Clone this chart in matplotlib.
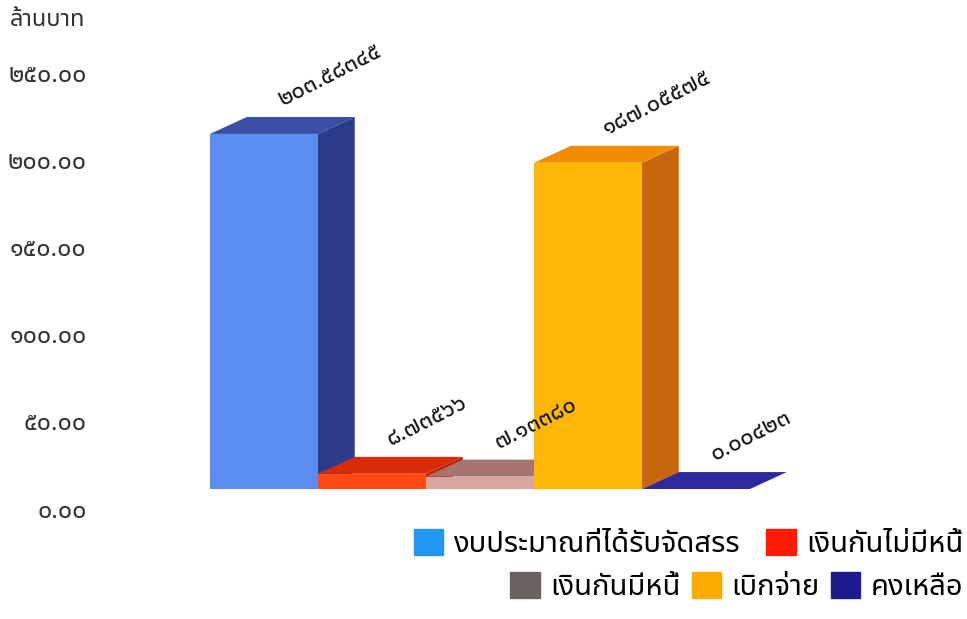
import matplotlib
matplotlib.use("Agg")
import matplotlib.pyplot as plt
from matplotlib import font_manager
from matplotlib.ft2font import FT2Font
from matplotlib.patches import Patch

# data
categories = ["งบประมาณที่ได้รับจัดสรร", "เงินกันไม่มีหนี้", "เงินกันมีหนี้", "เบิกจ่าย", "คงเหลือ"]
values = [203.58345, 8.73566, 7.13380, 187.05575, 0.00423]
y_ticks = [0, 50, 100, 150, 200, 250]
unit_label = "ล้านบาท"

# colours per bar: front, top, side ; legend swatch
front_colors = ["#5b8df0", "#ff4b12", "#d9a4a0", "#ffb705", "#2b239c"]
top_colors = ["#3a4ea6", "#d92b08", "#a67371", "#f28c00", "#2e2a9e"]
side_colors = ["#2c3a8a", "#b82206", "#8c5e5c", "#c8650f", "#201a80"]
legend_colors = ["#2196f3", "#ff1a00", "#6b6161", "#ffaa00", "#1c1c8c"]

THAI = str.maketrans("0123456789", "๐๑๒๓๔๕๖๗๘๙")


def thai_num(v, decimals):
    return f"{v:.{decimals}f}".translate(THAI)


def thai_font():
    """Pick an installed font that has Thai glyphs."""
    found = []
    for f in font_manager.fontManager.ttflist:
        try:
            if 0x0E01 in FT2Font(f.fname).get_charmap():
                found.append(f.name)
        except Exception:
            continue
    for pref in ("Noto Sans Thai", "Noto Sans Thai Looped", "Loma", "Garuda"):
        if pref in found:
            return pref
    return found[0] if found else "DejaVu Sans"


plt.rcParams["font.family"] = [thai_font(), "DejaVu Sans"]

fig = plt.figure(figsize=(9.67, 6.19), dpi=100)
ax = fig.add_axes([95 / 967, 111 / 619, 872 / 967, 436 / 619])

base = 10.9   # front baseline sits above the floor in the 3D view
dx = 0.34     # depth offset (x, in bar widths)
dy = 9.7      # depth offset (y, data units)

for i, v in enumerate(values):
    x0, x1 = i - 0.5, i + 0.5
    top = base + v
    # side face
    ax.fill([x1, x1 + dx, x1 + dx, x1], [base, base + dy, top + dy, top],
            color=side_colors[i], lw=0)
    # top face
    ax.fill([x0, x1, x1 + dx, x0 + dx], [top, top, top + dy, top + dy],
            color=top_colors[i], lw=0)
    # front face
    ax.fill([x0, x1, x1, x0], [base, base, top, top], color=front_colors[i], lw=0)
    ax.text(i + dx - 0.14, top + dy + 3, thai_num(v, 5), rotation=27,
            rotation_mode="anchor", ha="left", va="bottom", fontsize=17,
            color="#111111", fontweight="light")

ax.set_xlim(-1.565, 6.509)
ax.set_ylim(0, 250)
ax.set_xticks([])
ax.set_yticks(y_ticks, [thai_num(t, 2) for t in y_ticks])
ax.tick_params(axis="y", length=0, pad=6, labelsize=18, labelcolor="#333333")
for s in ax.spines.values():
    s.set_visible(False)

fig.text(10 / 967, 1 - 20 / 619, unit_label, fontsize=17, color="#333333", va="center")

handles = [Patch(color=c, label=l) for c, l in zip(legend_colors, categories)]
kw = dict(frameon=False, fontsize=21, handlelength=1.0, handleheight=1.0,
          handletextpad=0.35, borderaxespad=0, loc="lower right")
fig.legend(handles=handles[:2], ncol=2, columnspacing=0.9,
           bbox_to_anchor=(1.008, 48 / 619), **kw)
fig.legend(handles=handles[2:], ncol=3, columnspacing=0.4,
           bbox_to_anchor=(1.008, 5 / 619), **kw)

fig.savefig("out.png", dpi=100)
plt.close(fig)
